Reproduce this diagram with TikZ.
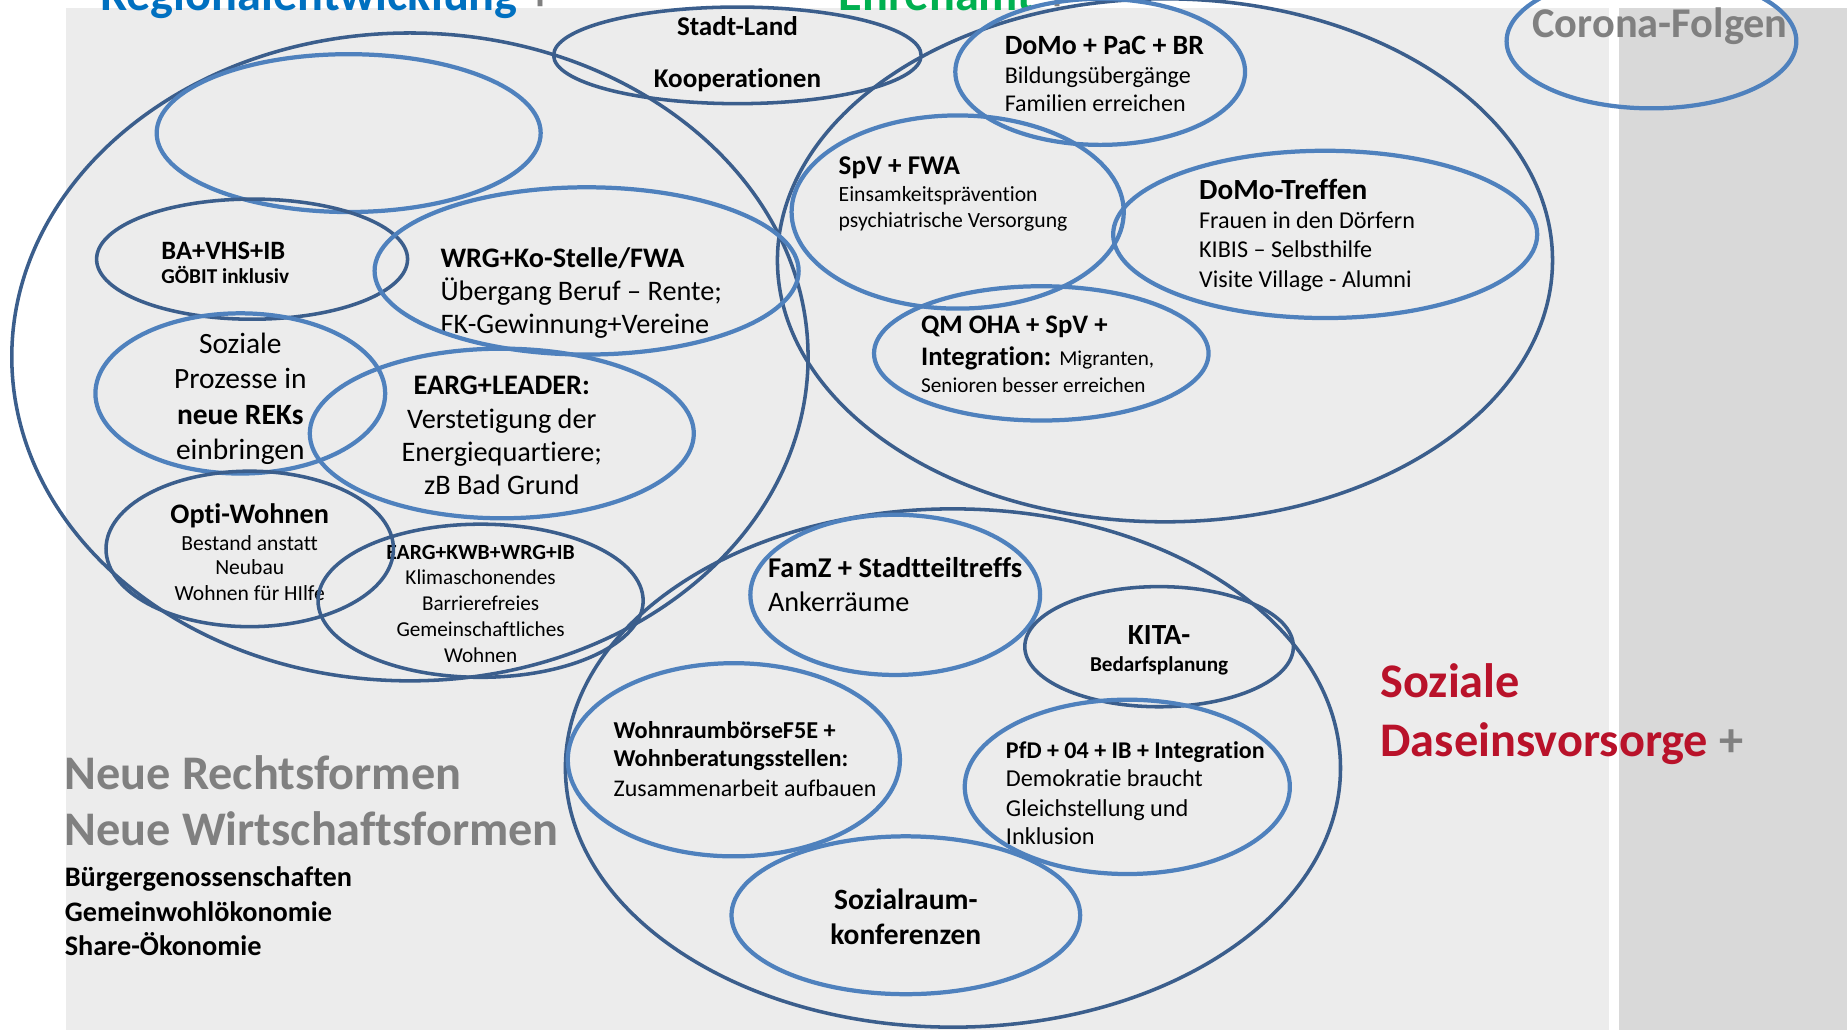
\documentclass[tikz,border=0pt]{standalone}
\usepackage{fontspec}
\setmainfont{Carlito}[Ligatures=NoCommon]
\usetikzlibrary{shapes.geometric}
\definecolor{bgL}{RGB}{236,236,236}
\definecolor{bgD}{RGB}{217,217,217}
\definecolor{dblue}{RGB}{59,94,140}
\definecolor{lblue}{RGB}{79,129,189}
\definecolor{greytxt}{RGB}{128,128,128}
\definecolor{redtxt}{RGB}{185,18,42}
\definecolor{bluetxt}{RGB}{0,112,192}
\definecolor{greentxt}{RGB}{0,176,80}
\newcommand{\fsz}[1]{\fontsize{#1}{#1}\selectfont}
\begin{document}
\begin{tikzpicture}[x=1pt,y=-1pt,
  tl/.style={inner sep=0pt, outer sep=0pt, text=black},
  ellD/.style={ellipse, draw=dblue, line width=3pt, inner sep=0pt, fill=none},
  ellL/.style={ellipse, draw=lblue, line width=3.6pt, inner sep=0pt, fill=none}]
\useasboundingbox (0,0) rectangle (1568,874);
\clip (0,0) rectangle (1568,874);
% backgrounds
\fill[white] (0,0) rectangle (1568,874);
\fill[bgL] (56,7) rectangle (1366,874);
\fill[bgD] (1374,7) rectangle (1568,874);

% headings
\node[tl, anchor=base west, font=\fsz{41}\bfseries] (hReg) at (85,9) {\textcolor{bluetxt}{Regionalentwicklung} \textcolor{greytxt}{+}};
\node[tl, anchor=base west, font=\fsz{41}\bfseries] (hEhr) at (712,9) {\textcolor{greentxt}{Ehrenamt} \textcolor{greytxt}{+}};
\node[tl, anchor=base west, font=\fsz{36}\bfseries, text=greytxt] (hCor) at (1301,32) {Corona-Folgen};
\node[tl, anchor=base west, font=\fsz{41}\bfseries, text=redtxt] (hSoz1) at (1172,592) {Soziale};
\node[tl, anchor=base west, font=\fsz{41}\bfseries] (hSoz2) at (1172,642) {\textcolor{redtxt}{Daseinsvorsorge} \textcolor{greytxt}{+}};
\node[tl, anchor=base west, font=\fsz{41}\bfseries, text=greytxt] (hNeu1) at (55,670) {Neue Rechtsformen};
\node[tl, anchor=base west, font=\fsz{41}\bfseries, text=greytxt] (hNeu2) at (55,718) {Neue Wirtschaftsformen};
\node[tl, anchor=base west, font=\fsz{24}\bfseries] (hB1) at (55,753) {Bürgergenossenschaften};
\node[tl, anchor=base west, font=\fsz{24}\bfseries] (hB2) at (55,782) {Gemeinwohlökonomie};
\node[tl, anchor=base west, font=\fsz{24}\bfseries] (hB3) at (55,811) {Share-Ökonomie};

% Stadt-Land
\node[tl, anchor=base, font=\fsz{23}\bfseries] (sl1) at (626,30) {Stadt-Land};
\node[tl, anchor=base, font=\fsz{23}\bfseries] (sl2) at (626,74) {Kooperationen};

% BA+VHS+IB
\node[tl, anchor=base west, font=\fsz{22.5}\bfseries] (ba1) at (137,220) {BA+VHS+IB};
\node[tl, anchor=base west, font=\fsz{18}\bfseries] (ba2) at (137,241) {GÖBIT inklusiv};

% WRG
\node[tl, anchor=base west, font=\fsz{24}\bfseries] (wr1) at (374,227) {WRG+Ko-Stelle/FWA};
\node[tl, anchor=base west, font=\fsz{24}] (wr2) at (374,255) {Übergang Beruf – Rente;};
\node[tl, anchor=base west, font=\fsz{24}] (wr3) at (374,283) {FK-Gewinnung+Vereine};

% Soziale Prozesse
\node[tl, anchor=base, font=\fsz{25}] (sp1) at (204,300) {Soziale};
\node[tl, anchor=base, font=\fsz{25}] (sp2) at (204,330) {Prozesse in};
\node[tl, anchor=base, font=\fsz{25}\bfseries] (sp3) at (204,360) {neue REKs};
\node[tl, anchor=base, font=\fsz{25}] (sp4) at (204,390) {einbringen};

% EARG+LEADER
\node[tl, anchor=base, font=\fsz{24}\bfseries] (le1) at (426,335) {EARG+LEADER:};
\node[tl, anchor=base, font=\fsz{24}] (le2) at (426,364) {Verstetigung der};
\node[tl, anchor=base, font=\fsz{24}] (le3) at (426,392) {Energiequartiere;};
\node[tl, anchor=base, font=\fsz{24}] (le4) at (426,420) {zB Bad Grund};

% Opti-Wohnen
\node[tl, anchor=base, font=\fsz{24}\bfseries] (op1) at (212,444) {Opti-Wohnen};
\node[tl, anchor=base, font=\fsz{18.3}] (op2) at (212,467) {Bestand anstatt};
\node[tl, anchor=base, font=\fsz{18.3}] (op3) at (212,488) {Neubau};
\node[tl, anchor=base, font=\fsz{18.3}] (op4) at (212,510) {Wohnen für HIlfe};

% EARG+KWB
\node[tl, anchor=base, font=\fsz{18.4}\bfseries] (kw1) at (408,475) {EARG+KWB+WRG+IB};
\node[tl, anchor=base, font=\fsz{18}] (kw2) at (408,496) {Klimaschonendes};
\node[tl, anchor=base, font=\fsz{18}] (kw3) at (408,518) {Barrierefreies};
\node[tl, anchor=base, font=\fsz{18}] (kw4) at (408,540) {Gemeinschaftliches};
\node[tl, anchor=base, font=\fsz{18}] (kw5) at (408,562) {Wohnen};

% DoMo + PaC + BR
\node[tl, anchor=base west, font=\fsz{23.7}\bfseries] (dp1) at (853,46) {DoMo + PaC + BR};
\node[tl, anchor=base west, font=\fsz{20.4}] (dp2) at (853,71) {Bildungsübergänge};
\node[tl, anchor=base west, font=\fsz{20.4}] (dp3) at (853,95) {Familien erreichen};

% SpV + FWA
\node[tl, anchor=base west, font=\fsz{23}\bfseries] (sv1) at (712,148) {SpV + FWA};
\node[tl, anchor=base west, font=\fsz{18.4}] (sv2) at (712,171) {Einsamkeitsprävention};
\node[tl, anchor=base west, font=\fsz{18.4}] (sv3) at (712,193) {psychiatrische Versorgung};

% DoMo-Treffen
\node[tl, anchor=base west, font=\fsz{24.8}\bfseries] (dt1) at (1018,169) {DoMo-Treffen};
\node[tl, anchor=base west, font=\fsz{20.5}] (dt2) at (1018,194) {Frauen in den Dörfern};
\node[tl, anchor=base west, font=\fsz{20.5}] (dt3) at (1018,219) {KIBIS – Selbsthilfe};
\node[tl, anchor=base west, font=\fsz{20.5}] (dt4) at (1018,244) {Visite Village - Alumni};

% QM OHA
\node[tl, anchor=base west, font=\fsz{22.7}\bfseries] (qm1) at (782,283) {QM OHA + SpV +};
\node[tl, anchor=base west, font=\fsz{22.7}] (qm2) at (782,310) {{\bfseries Integration:} {\fsz{18}Migranten,}};
\node[tl, anchor=base west, font=\fsz{18}] (qm3) at (782,333) {Senioren besser erreichen};

% FamZ
\node[tl, anchor=base west, font=\fsz{24.3}\bfseries] (fz1) at (652,490) {FamZ + Stadtteiltreffs};
\node[tl, anchor=base west, font=\fsz{24}] (fz2) at (652,519) {Ankerräume};

% KITA
\node[tl, anchor=base, font=\fsz{24.8}\bfseries] (ki1) at (984,547) {KITA-};
\node[tl, anchor=base, font=\fsz{18}\bfseries] (ki2) at (984,570) {Bedarfsplanung};

% Wohnraumbörse
\node[tl, anchor=base west, font=\fsz{20.6}\bfseries] (wb1) at (521,627) {WohnraumbörseF5E +};
\node[tl, anchor=base west, font=\fsz{20.6}\bfseries] (wb2) at (521,651) {Wohnberatungsstellen:};
\node[tl, anchor=base west, font=\fsz{20.3}] (wb3) at (521,676) {Zusammenarbeit aufbauen};

% PfD
\node[tl, anchor=base west, font=\fsz{20.4}\bfseries] (pf1) at (854,644) {PfD + 04 + IB + Integration};
\node[tl, anchor=base west, font=\fsz{20.6}] (pf2) at (854,668) {Demokratie braucht};
\node[tl, anchor=base west, font=\fsz{20.6}] (pf3) at (854,693) {Gleichstellung und};
\node[tl, anchor=base west, font=\fsz{20.6}] (pf4) at (854,717) {Inklusion};

% Sozialraum
\node[tl, anchor=base, font=\fsz{25}\bfseries] (sr1) at (769,772) {Sozialraum-};
\node[tl, anchor=base, font=\fsz{25}\bfseries] (sr2) at (769,802) {konferenzen};

% ellipses
\node[ellD, minimum width=676pt, minimum height=550pt] (regE) at (348,303) {};
\node[ellD, minimum width=658pt, minimum height=444pt] (ehrE) at (989,221) {};
\node[ellD, minimum width=658pt, minimum height=440pt] (sozE) at (809,652) {};
\node[ellD, minimum width=312pt, minimum height=82pt] (stadtE) at (626,47) {};
\node[ellL, minimum width=326pt, minimum height=134pt] (emptyE) at (296,113) {};
\node[ellD, minimum width=264pt, minimum height=102pt] (baE) at (214,220) {};
\node[ellL, minimum width=360pt, minimum height=142pt] (wrgE) at (498,230) {};
\node[ellL, minimum width=246pt, minimum height=136pt] (prozE) at (204,334) {};
\node[ellL, minimum width=326pt, minimum height=144pt] (leaderE) at (426,368) {};
\node[ellD, minimum width=244pt, minimum height=132pt] (optiE) at (212,466) {};
\node[ellD, minimum width=276pt, minimum height=130pt] (kwbE) at (408,510) {};
\node[ellL, minimum width=246pt, minimum height=124pt] (domoE) at (934,61) {};
\node[ellL, minimum width=282pt, minimum height=164pt] (spvE) at (813,180) {};
\node[ellL, minimum width=360pt, minimum height=142pt] (treffE) at (1125,199) {};
\node[ellL, minimum width=284pt, minimum height=114pt] (qmE) at (884,300) {};
\node[ellL, minimum width=246pt, minimum height=136pt] (famE) at (760,505) {};
\node[ellD, minimum width=228pt, minimum height=102pt] (kitaE) at (984,549) {};
\node[ellL, minimum width=282pt, minimum height=164pt] (wohnE) at (623,645) {};
\node[ellL, minimum width=276pt, minimum height=148pt] (pfdE) at (957,668) {};
\node[ellL, minimum width=296pt, minimum height=134pt] (sozrE) at (769,777) {};
\node[ellL, minimum width=246pt, minimum height=114pt] (coronaE) at (1402,35) {};
\end{tikzpicture}
\end{document}
